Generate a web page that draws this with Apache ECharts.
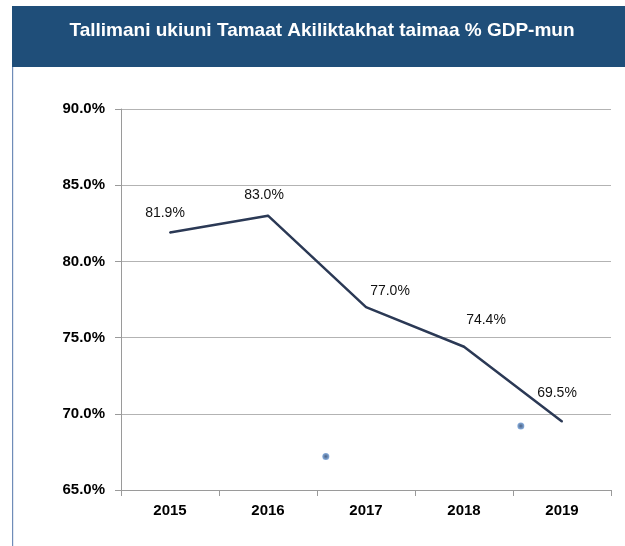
<!DOCTYPE html>
<html><head><meta charset="utf-8">
<script src="https://cdn.jsdelivr.net/npm/echarts@6/dist/echarts.min.js"></script>
<style>html,body{margin:0;padding:0;background:#fff}#c{width:625px;height:546px}</style>
</head><body><div id="c"></div>
<script>
var titleText = 'Tallimani ukiuni Tamaat Akiliktakhat taimaa % GDP-mun';
var years = ['2015','2016','2017','2018','2019'];
var values = [81.9, 83.0, 77.0, 74.4, 69.5];
var strayX = [1.59, 3.58];
var strayY = [67.2, 69.2];
var labelOffsets = [[-5,-19],[-4,-21],[24,-16],[22,-27],[-5,-28]];

var chart = echarts.init(document.getElementById('c'));
var font = '"Liberation Sans", Arial, sans-serif';
chart.setOption({
  animation: false,
  graphic: [
    {type:'rect', shape:{x:12,y:6,width:613,height:61}, style:{fill:'#1f4e79'}, z:-1},
    {type:'rect', shape:{x:12,y:67,width:1.2,height:479}, style:{fill:'#6f8cb8'}, z:-1}
  ],
  title: {text: titleText, left: 317, top: 16, textAlign:'center',
    textStyle:{color:'#fff', fontSize:19, fontWeight:'bold', fontFamily:font}},
  grid: {left:121, right:14, top:109, bottom:56},
  xAxis: [{
    type:'category', data: years, boundaryGap:true,
    axisLine:{lineStyle:{color:'#9a9a9a'}},
    axisTick:{show:true, length:6, lineStyle:{color:'#9a9a9a'}},
    axisLabel:{color:'#000', fontWeight:'bold', fontSize:15, fontFamily:font, margin:13}
  },{
    type:'value', min:-0.5, max:4.5, show:false
  }],
  yAxis: {
    type:'value', min:65, max:90, interval:5,
    axisLine:{show:true, onZero:false, lineStyle:{color:'#9a9a9a'}},
    axisTick:{show:true, length:6, lineStyle:{color:'#9a9a9a'}},
    splitLine:{lineStyle:{color:'#b3b3b3'}},
    axisLabel:{color:'#000', fontWeight:'bold', fontSize:15, fontFamily:font, margin:16,
      formatter:function(v){return v.toFixed(1)+'%';}}
  },
  series: [{
    type:'line', data: values.map(function(v,i){
      return {value:v, label:{offset:labelOffsets[i]}};
    }),
    symbol:'circle', symbolSize:2, showSymbol:true, itemStyle:{color:'#2b3955'},
    lineStyle:{color:'#2b3955', width:2.5},
    label:{show:true, position:'inside', color:'#111', fontSize:14, fontFamily:font,
      formatter:function(p){return p.value.toFixed(1)+'%';}}
  },{
    type:'scatter', xAxisIndex:1,
    data: strayX.map(function(x,i){return [x, strayY[i]];}),
    symbolSize:7,
    itemStyle:{color:{type:'radial',x:0.5,y:0.5,r:0.5,colorStops:[{offset:0,color:'#1d3a66'},{offset:1,color:'#6a9ad6'}]}}
  }]
});
</script></body></html>
